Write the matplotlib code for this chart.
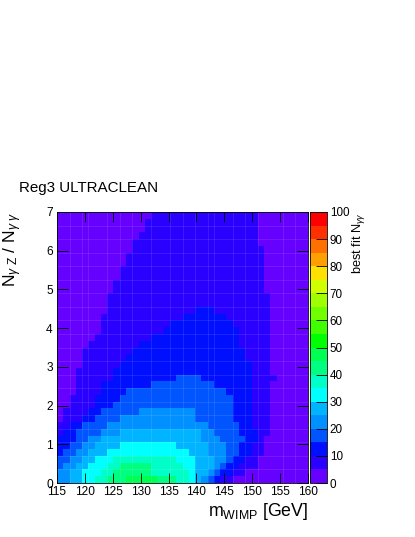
# -*- coding: utf-8 -*-
import numpy as np
import matplotlib
matplotlib.use("Agg")
import matplotlib.pyplot as plt
from matplotlib.colors import ListedColormap, BoundaryNorm

plt.rcParams['font.family'] = ['Liberation Sans', 'DejaVu Sans']
plt.rcParams['mathtext.fontset'] = 'custom'
plt.rcParams['mathtext.rm'] = 'Liberation Sans'
plt.rcParams['mathtext.it'] = 'Liberation Sans:italic'

##Data
x_edges = np.linspace(115, 160, 41)
y_edges = np.linspace(0, 7, 41)
x_ticks = [115, 120, 125, 130, 135, 140, 145, 150, 155, 160]
y_ticks = [0, 1, 2, 3, 4, 5, 6, 7]
z_ticks = [0, 10, 20, 30, 40, 50, 60, 70, 80, 90, 100]
z_levels = np.arange(0, 105, 5)

# one digit per cell = colour band (band n covers 5n..5n+5), first row is y=0
bands = [
    "4455667788899999888776543211",
    "445566677888888777777655432211",
    "34455666778888877777665554 3221 11".replace(" ", ""),
    "33445566677777777776665554 432211".replace(" ", ""),
    "233445556666666666666555444332211",
    "223344555566666666655555444332211",
    "222334455555555555555554443333221",
    "1223333444555555555555544333322211",
    "1122333344444444444444443333322111",
    "0111223333444444444444333333222111",
    "0111122333333444444444333333222111",
    "0011112223333333333333333333222111",
    "0011112222333333333333333333222111",
    "0001111222233333333333333332222111",
    "0001111222222223333333333222222111",
    "00011111122222222223333222222221111",
    "0001111112222222222222222222222111",
    "0000111111222222222222222222222111",
    "0000111111122222222222222222221111",
    "0000111111112222222222222222221111",
    "0000011111111222222222222222211111",
    "0000001111111112222222222222211111",
    "0000000111111111122222222222211111",
    "0000000111111111112222222222111111",
    "0000000111111111111122222221111111",
    "0000000011111111111111222111111111",
    "0000000011111111111111111111111111",
    "0000000011111111111111111111111111",
    "000000000111111111111111111111111",
    "000000000111111111111111111111111",
    "000000000011111111111111111111111",
    "000000000011111111111111111111111",
    "000000000001111111111111111111111",
    "000000000001111111111111111111111",
    "000000000000111111111111111111111",
    "00000000000011111111111111111111",
    "00000000000001111111111111111111",
    "00000000000000111111111111111111",
    "00000000000000111111111111111111",
    "00000000000000011111111111111111",
]

band_colors = ["#6600ff", "#2a00ff", "#0010ff", "#0055ff", "#0090ff",
               "#00b4ff", "#00ffff", "#00ffc8", "#00ff80", "#00ff50",
               "#00ff00", "#40ff00", "#70ff00", "#a0ff00", "#d0ff00",
               "#ffe000", "#ffa000", "#ff7000", "#ff3000", "#ff0000"]

z = np.array([[5 * int(c) + 2.5 for c in row.ljust(40, "0")] for row in bands])

# faint seams between cells in the reference (column indices)
seam_cols = [2, 4, 5, 8, 10, 12, 15, 18, 20, 22, 24, 25, 28, 30, 32, 36, 38]

##Figure
fig = plt.figure(figsize=(4.15, 5.37), dpi=100)
ax = fig.add_axes([57 / 415, 1 - 483 / 537, 251 / 415, 271 / 537])
cax = fig.add_axes([309.5 / 415, 1 - 483 / 537, 17.5 / 415, 271 / 537])

cmap = ListedColormap(band_colors)
norm = BoundaryNorm(z_levels, cmap.N)
mesh = ax.pcolormesh(x_edges, y_edges, z, cmap=cmap, norm=norm, linewidth=0, rasterized=True)

for c in seam_cols:
    ax.axvline(x_edges[c], color='white', alpha=0.1, lw=0.7)
for r in range(2, 40, 2):
    ax.axhline(y_edges[r], color='white', alpha=0.1, lw=0.7)

ax.set_xlim(115, 160)
ax.set_ylim(0, 7)
ax.set_xticks(x_ticks)
ax.set_yticks(y_ticks)
ax.tick_params(axis='x', direction='in', top=True, length=7, width=0.6, labelsize=8.6, pad=2)
ax.tick_params(axis='y', direction='in', right=True, length=8, width=0.6, labelsize=8.6, pad=3)
for s in ax.spines.values():
    s.set_linewidth(0.6)

cb = fig.colorbar(mesh, cax=cax, ticks=z_ticks, spacing='proportional')
cb.ax.tick_params(direction='in', length=8, width=0.6, labelsize=8.4, pad=2)
cb.ax.minorticks_off()
cb.outline.set_linewidth(0.6)

fig.text(19 / 415, 1 - 188 / 537, "Reg3 ULTRACLEAN", fontsize=10.9, va='center', ha='left')
fig.text(308 / 415, 1 - 512 / 537, r"m$_{\mathrm{WIMP}}$ [GeV]", fontsize=12.8, va='center', ha='right')
fig.text(13 / 415, 1 - 212 / 537, r"N$_{\gamma\ \mathrm{Z}}$ / N$_{\gamma\ \gamma}$", fontsize=12.5,
         rotation=90, va='top', ha='center')
fig.text(358 / 415, 1 - 212 / 537, r"best fit N$_{\gamma\gamma}$", fontsize=9.2,
         rotation=90, va='top', ha='center')

fig.savefig("out.png", dpi=100)
